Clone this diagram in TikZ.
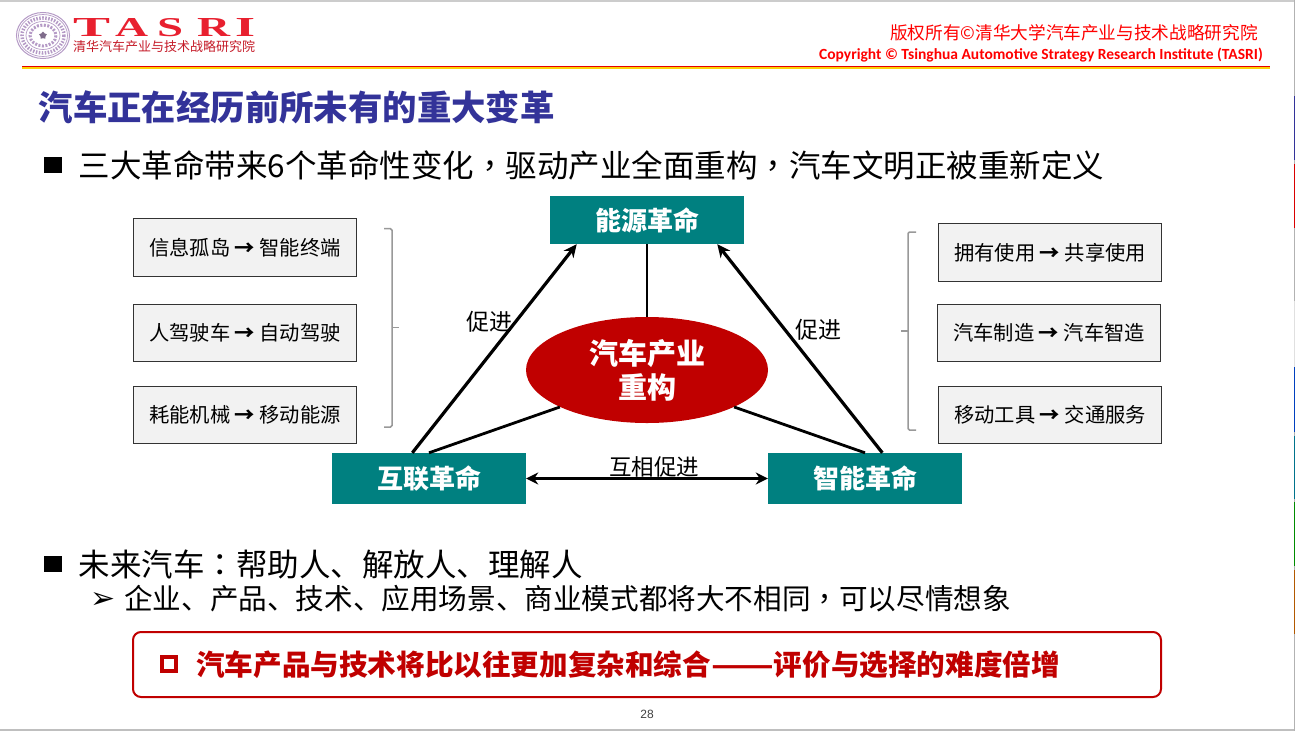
\documentclass[tikz,border=0pt]{standalone}
\usepackage{fontspec}
\usepackage{graphicx}
\setmainfont{Noto Sans CJK SC}
\newfontfamily\punc{Noto Sans CJK TC}
\newfontfamily\latinbold{Carlito}[BoldFont=Carlito Bold]
\newfontfamily\serifbold{Liberation Serif}
\newfontfamily\symfont{DejaVu Sans}
\newfontfamily\numfont{Liberation Sans}
\usetikzlibrary{shapes.geometric,arrows.meta}
\definecolor{tealbox}{HTML}{008080}
\definecolor{darkred}{HTML}{C00000}
\definecolor{titleblue}{HTML}{333399}
\definecolor{seal}{HTML}{B59AC6}
\definecolor{logored}{HTML}{E8202F}
\newcommand{\fs}[1]{\fontsize{#1}{#1}\selectfont}
\newcommand{\arrowsign}{{\bfseries →}}
\tikzset{
  x=1pt,y=-1pt,
  txt/.style={inner sep=0pt,anchor=west,text=black},
  smallbox/.style={draw=black!80,line width=0.9pt,fill=black!5,minimum width=223pt,minimum height=57.5pt,inner sep=0pt,font=\fs{20.3}},
  revbox/.style={fill=tealbox,text=white,minimum width=194pt,inner sep=0pt,font=\fs{26}\bfseries},
  conn/.style={line width=2.8pt,black},
  arr/.style={line width=3.2pt,black,-{Stealth[length=13pt,width=12pt]}},
  brk/.style={draw=black!40,line width=1.5pt,rounded corners=1.5pt},
  lab/.style={inner sep=0pt,font=\fs{23}},
  bulletsq/.style={fill=black,minimum width=18pt,minimum height=16pt,inner sep=0pt},
  logoletter/.style={inner sep=0pt,anchor=north west,text=logored}
}
\begin{document}
\begin{tikzpicture}
\useasboundingbox (0,0) rectangle (1295,731);
\fill[white] (0,0) rectangle (1295,731);
% page edges
\draw[black!20,line width=2pt] (0,0.5) -- (1295,0.5);
\draw[black!25,line width=2pt] (0,730) -- (1295,730);
\draw[black!30,line width=1.5pt] (1294.3,0) -- (1294.3,731);
\foreach \a/\b/\c in {96/160/titleblue,164/228/red!85!black,367/432/blue!50!teal,436/499/teal!90!blue,502/566/green!55!black,570/634/orange!70!black}
  \draw[\c,line width=1.5pt] (1294.3,\a) -- (1294.3,\b);
\draw[black!12,line width=1.5pt] (1294.3,301) -- (1294.3,367);
% header rule
\draw[yellow!70!orange,line width=1.4pt] (22,67.9) -- (1270,67.9);
\draw[red!90!black,line width=1.2pt] (22,66.4) -- (1270,66.4);
% seal
\begin{scope}[seal]
\draw[line width=1pt] (43,35.5) ellipse (26.5 and 23);
\draw[line width=0.7pt] (43,35.5) ellipse (24.5 and 21);
\draw[line width=3.5pt,dash pattern=on 1.5pt off 1.5pt] (43,35.5) ellipse (21 and 17.5);
\draw[line width=0.7pt] (43,35.5) ellipse (17 and 14);
\draw[line width=3pt,dash pattern=on 2pt off 1.5pt] (43,35.5) ellipse (13 and 10.5);
\node[star,star points=5,fill=seal!70!black,inner sep=0pt,minimum size=8pt] (sealstar) at (43,35.5) {};
\end{scope}
% TASRI wordmark
\node[logoletter] (lt) at (73,18.5) {\resizebox{37pt}{18pt}{\serifbold\bfseries T}};
\node[logoletter] (la) at (115,18.5) {\resizebox{33pt}{18pt}{\serifbold\bfseries A}};
\node[logoletter] (ls) at (157,18.5) {\resizebox{26pt}{18pt}{\serifbold\bfseries S}};
\node[logoletter] (lr) at (197,18.5) {\resizebox{33pt}{18pt}{\serifbold\bfseries R}};
\node[logoletter] (li) at (235,18.5) {\resizebox{20pt}{18pt}{\serifbold\bfseries I}};
\node[txt,text=logored!85!black,font=\fs{13}] (lsub) at (73,46.8) {清华汽车产业与技术战略研究院};
% copyright
\node[inner sep=0pt,anchor=east,text=red,font=\fs{17.65}] (cpcn) at (1258,33) {版权所有©清华大学汽车产业与技术战略研究院};
\node[inner sep=0pt,anchor=east,text=red,font=\latinbold\bfseries\fs{15.5}] (cpen) at (1263,55.5) {Copyright © Tsinghua Automotive Strategy Research Institute (TASRI)};
% title and bullets
\node[txt,text=titleblue,font=\fs{34.4}\bfseries] (title) at (38.5,107) {汽车正在经历前所未有的重大变革};
\node[bulletsq] (b1) at (53,165) {};
\node[txt,font=\fs{31.5}] (t1) at (78.5,165) {三大革命带来6个革命性变化{\punc ，}驱动产业全面重构{\punc ，}汽车文明正被重新定义};
\node[bulletsq] (b2) at (53,564) {};
\node[txt,font=\fs{31.5}] (t2) at (78.5,564) {未来汽车{\punc ：}帮助人、解放人、理解人};
\node[inner sep=0pt,font=\symfont\fs{30}] (b3) at (103.5,600) {➢};
\node[txt,font=\fs{28.6}] (t3) at (124,599) {企业、产品、技术、应用场景、商业模式都将大不相同{\punc ，}可以尽情想象};
% side boxes
\node[smallbox,minimum height=58.5pt] (l1) at (245,247.5) {信息孤岛 \arrowsign{} 智能终端};
\node[smallbox] (l2) at (245,333) {人驾驶车 \arrowsign{} 自动驾驶};
\node[smallbox] (l3) at (245,415) {耗能机械 \arrowsign{} 移动能源};
\node[smallbox,minimum height=58.5pt] (r1) at (1050,252.5) {拥有使用 \arrowsign{} 共享使用};
\node[smallbox] (r2) at (1049,333) {汽车制造 \arrowsign{} 汽车智造};
\node[smallbox] (r3) at (1050,415) {移动工具 \arrowsign{} 交通服务};
% brackets
\draw[brk] (384,228.7) -- (392,228.7) -- (392,427) -- (384,427);
\draw[brk] (392,327.7) -- (399,327.7);
\draw[brk] (916,232) -- (908,232) -- (908,430) -- (916,430);
\draw[brk] (908,331) -- (901,331);
% main diagram
\node[revbox,minimum height=48pt] (eng) at (647,220) {能源革命};
\node[revbox,minimum height=51pt] (hul) at (429,478.5) {互联革命};
\node[revbox,minimum height=51pt] (zhi) at (865,478.5) {智能革命};
\node[ellipse,fill=darkred,text=white,minimum width=242pt,minimum height=106pt,inner sep=0pt,align=center,font=\fs{29}\bfseries] (ell) at (647,370) {汽车产业\\[5pt]重构};
\draw[conn] (eng.south) -- (ell.north);
\draw[conn] (hul.north) -- (ell.203);
\draw[conn] (zhi.north) -- (ell.337);
\draw[arr] (hul.123.7) -- (eng.199.2);
\draw[arr] (zhi.56.3) -- (eng.341.8);
\draw[line width=3pt,black,{Stealth[length=12pt,width=12pt]}-{Stealth[length=12pt,width=12pt]}] (hul.east) -- (zhi.west);
\node[lab] (p1) at (489,322) {促进};
\node[lab] (p2) at (818,330) {促进};
\node[lab,font=\fs{22.5}] (p3) at (654,467) {互相促进};
% red call-out
\node[draw=darkred,line width=2pt,rounded corners=8pt,minimum width=1028pt,minimum height=65pt,inner sep=0pt] (callout) at (647,664.5) {};
\node[draw=darkred,line width=3.4pt,minimum width=14pt,minimum height=14pt,inner sep=0pt] (b4) at (169,664) {};
\node[txt,text=darkred,font=\fs{28.6}\bfseries] (t4) at (196,665) {汽车产品与技术将比以往更加复杂和综合\scalebox{1.28}[1]{——}评价与选择的难度倍增};
\node[inner sep=0pt,font=\numfont\fs{12},text=black!75] (pg) at (647,714) {28};
\end{tikzpicture}
\end{document}
